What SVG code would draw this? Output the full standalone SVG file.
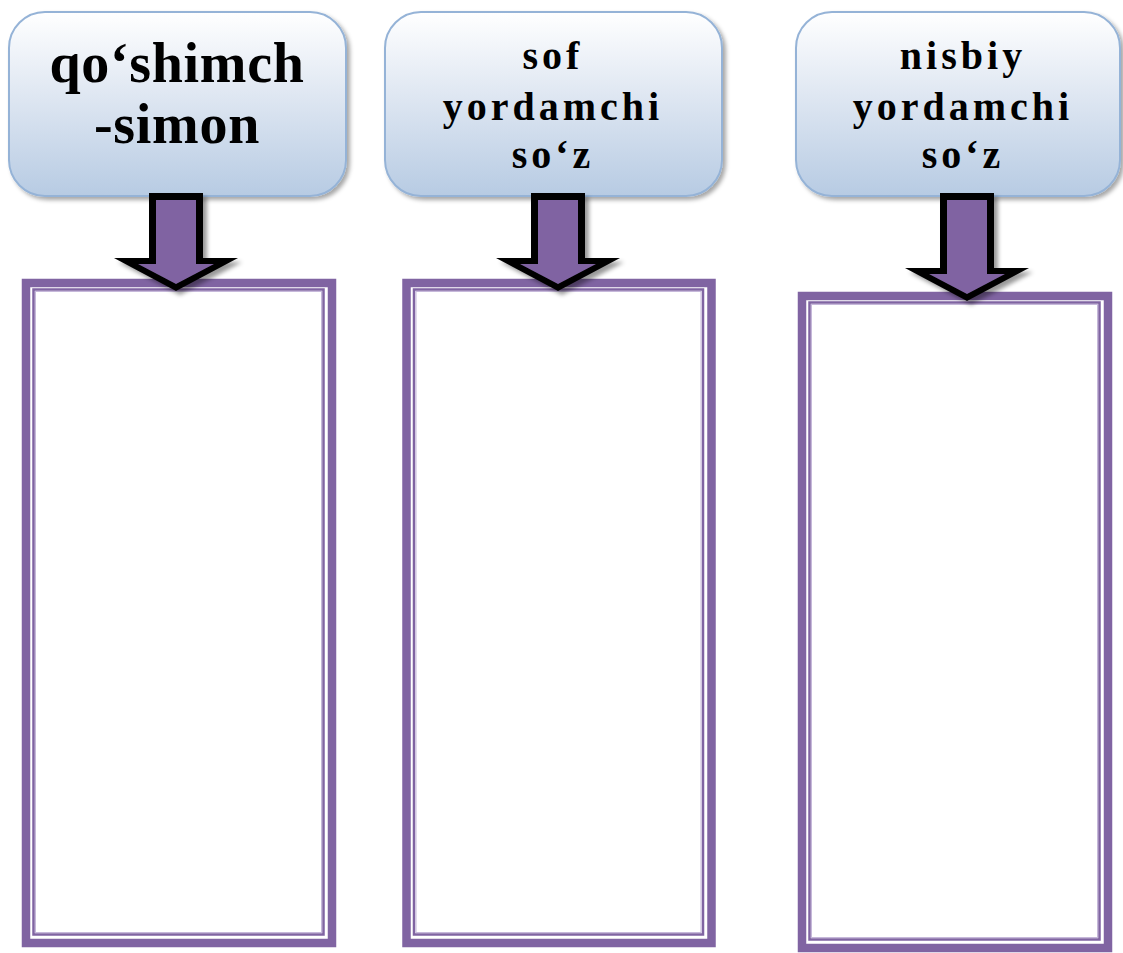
<svg xmlns="http://www.w3.org/2000/svg" width="1123" height="953" viewBox="0 0 1123 953">
  <defs>
    <linearGradient id="boxGrad" x1="0" y1="0" x2="0" y2="1">
      <stop offset="0" stop-color="#ffffff"/>
      <stop offset="0.45" stop-color="#dfe7f2"/>
      <stop offset="1" stop-color="#b7cbe3"/>
    </linearGradient>
    <filter id="shadow" x="-10%" y="-10%" width="130%" height="130%">
      <feDropShadow dx="3" dy="3" stdDeviation="2" flood-color="#000" flood-opacity="0.35"/>
    </filter>
    <filter id="ashadow" x="-20%" y="-20%" width="150%" height="150%">
      <feDropShadow dx="4" dy="4" stdDeviation="2" flood-color="#000" flood-opacity="0.4"/>
    </filter>
  </defs>
  <style>
    .box { fill: url(#boxGrad); stroke: #95b3d7; stroke-width: 2; }
    .lbl { font-family: "Liberation Serif", "Times New Roman", serif; font-weight: bold; fill: #000; text-anchor: middle; }
    .big { font-size: 56px; letter-spacing: 0.7px; }
    .mid { font-size: 40px; letter-spacing: 4px; }
    .band { fill: none; stroke: #8064a2; stroke-width: 8.5; }
    .thin { fill: none; stroke: #8064a2; stroke-width: 2.5; }
    .thin2 { fill: none; stroke: #c6b8da; stroke-width: 1; }
    .aout { fill: #000; }
    .ain { fill: #8064a2; }
  </style>
  <rect width="1123" height="953" fill="#ffffff"/>

  <g id="node-qoshimch">
    <rect class="box" x="9" y="12" width="337" height="184" rx="36" filter="url(#shadow)"/>
    <text class="lbl big" x="177" y="82">qo‘shimch</text>
    <text class="lbl big" x="177" y="143">-simon</text>
  </g>
  <g id="node-sof">
    <rect class="box" x="385" y="12" width="337" height="184" rx="36" filter="url(#shadow)"/>
    <text class="lbl mid" x="553" y="69">sof</text>
    <text class="lbl mid" x="553" y="120">yordamchi</text>
    <text class="lbl mid" x="553" y="168">so‘z</text>
  </g>
  <g id="node-nisbiy">
    <rect class="box" x="796" y="12" width="324" height="184" rx="36" filter="url(#shadow)"/>
    <text class="lbl mid" x="963" y="69">nisbiy</text>
    <text class="lbl mid" x="963" y="120">yordamchi</text>
    <text class="lbl mid" x="963" y="168">so‘z</text>
  </g>

  <g id="node-box1">
    <rect class="band" x="26" y="283" width="306" height="660"/>
    <rect class="thin" x="33.5" y="289.5" width="290" height="645"/>
    <rect class="thin2" x="35.5" y="291.5" width="286" height="641"/>
  </g>
  <g id="node-box2">
    <rect class="band" x="406.5" y="283" width="305" height="660"/>
    <rect class="thin" x="414" y="289.5" width="289" height="645"/>
    <rect class="thin2" x="416" y="291.5" width="285" height="641"/>
  </g>
  <g id="node-box3">
    <rect class="band" x="802" y="296" width="306" height="652"/>
    <rect class="thin" x="809.5" y="302.5" width="290" height="637"/>
    <rect class="thin2" x="811.5" y="304.5" width="286" height="633"/>
  </g>

  <g id="connectors">
    <g filter="url(#ashadow)">
      <polygon class="aout" points="149,193 203,193 203,258 238,258 176,291 114,258 149,258"/>
      <polygon class="ain" points="156,200 196,200 196,264 214,264 176,284 138,264 156,264"/>
    </g>
    <g filter="url(#ashadow)">
      <polygon class="aout" points="531,193 585,193 585,258 620,258 558,291 496,258 531,258"/>
      <polygon class="ain" points="538,200 578,200 578,264 596,264 558,284 520,264 538,264"/>
    </g>
    <g filter="url(#ashadow)">
      <polygon class="aout" points="940,193 994,193 994,268 1029,268 967,301 905,268 940,268"/>
      <polygon class="ain" points="947,200 987,200 987,274 1005,274 967,294 929,274 947,274"/>
    </g>
  </g>
</svg>
